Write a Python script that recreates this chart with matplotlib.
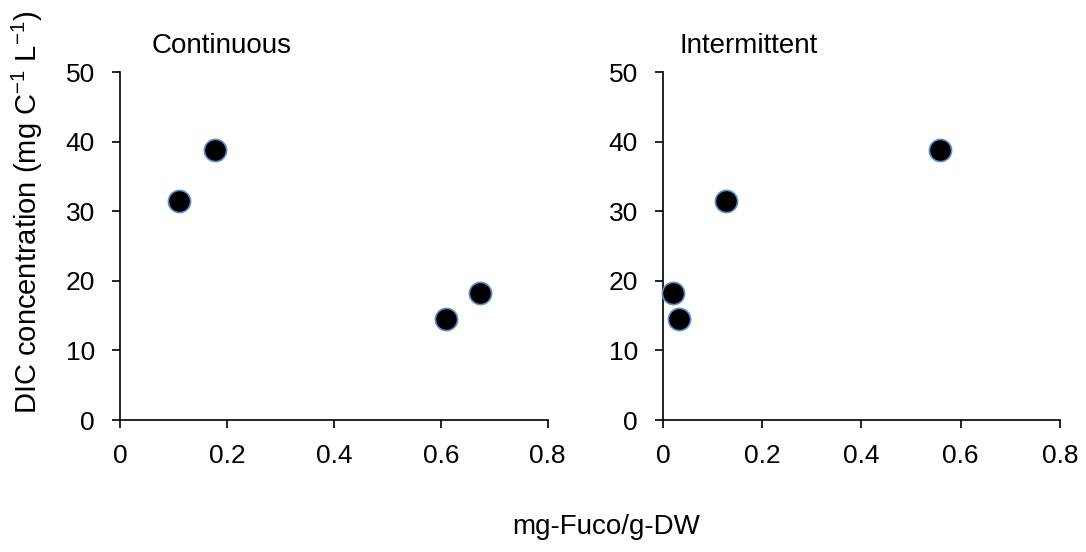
import matplotlib
matplotlib.use("Agg")
import matplotlib.pyplot as plt

plt.rcParams['font.family'] = ['Liberation Sans', 'DejaVu Sans']

cont_x = [0.110, 0.178, 0.609, 0.673]
cont_y = [31.4, 38.8, 14.5, 18.2]
inter_x = [0.021, 0.033, 0.127, 0.558]
inter_y = [18.2, 14.5, 31.4, 38.8]
titles = ["Continuous", "Intermittent"]
xticks = [0, 0.2, 0.4, 0.6, 0.8]
xticklabels = ["0", "0.2", "0.4", "0.6", "0.8"]
yticks = [0, 10, 20, 30, 40, 50]

fig = plt.figure(figsize=(10.86, 5.52), dpi=100)
ax1 = fig.add_axes([0.1105, 0.2391, 0.3938, 0.6304])
ax2 = fig.add_axes([0.6105, 0.2391, 0.3655, 0.6304])

title_x = [0.140, 0.626]
for ax, xs, ys, title, tx in [(ax1, cont_x, cont_y, titles[0], title_x[0]),
                              (ax2, inter_x, inter_y, titles[1], title_x[1])]:
    ax.scatter(xs, ys, s=255, c='black', edgecolors='#5b8fd0', linewidths=1.2, zorder=3, clip_on=False)
    ax.set_xlim(0, 0.8)
    ax.set_ylim(0, 50)
    ax.set_xticks(xticks)
    ax.set_xticklabels(xticklabels)
    ax.set_yticks(yticks)
    ax.spines['top'].set_visible(False)
    ax.spines['right'].set_visible(False)
    ax.spines['left'].set_linewidth(1.2)
    ax.spines['bottom'].set_linewidth(1.2)
    ax.tick_params(axis='both', direction='out', length=6, width=1.2, labelsize=19)
    ax.tick_params(axis='y', pad=12)
    ax.tick_params(axis='x', pad=11)
    fig.text(tx, 0.904, title, fontsize=20, ha='left', va='baseline')

fig.text(0.025, 0.615, "DIC concentration (mg C$^{\\mathregular{-1}}$ L$^{\\mathregular{-1}}$)",
         rotation=90, fontsize=21, ha='center', va='center')
fig.text(0.558, 0.045, "mg-Fuco/g-DW", fontsize=20, ha='center', va='center')

fig.savefig("out.png", dpi=100)
